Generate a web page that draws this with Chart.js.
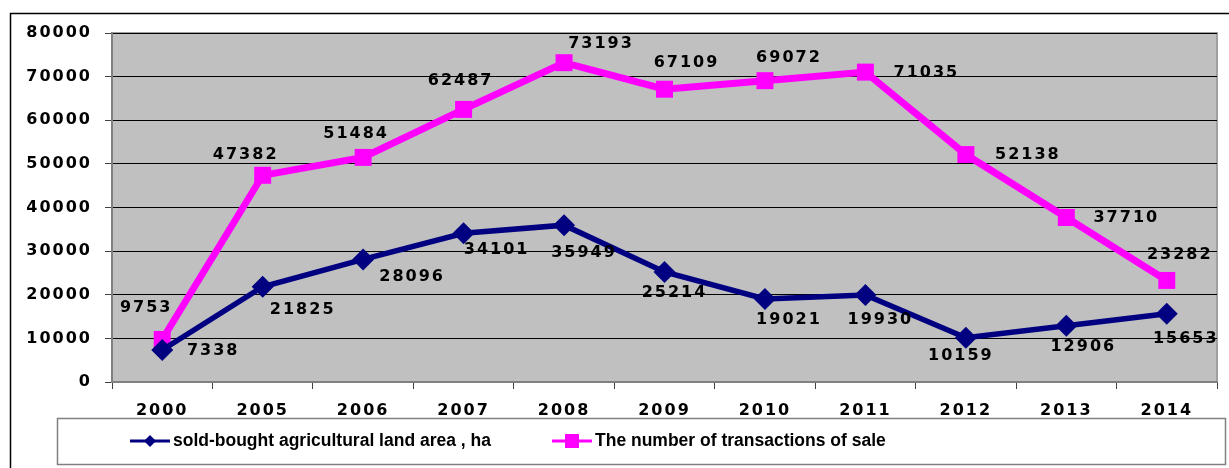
<!DOCTYPE html>
<html>
<head>
<meta charset="utf-8">
<title>Agricultural land sales</title>
<script src="https://cdn.jsdelivr.net/npm/chart.js@4.4.1/dist/chart.umd.min.js"></script>
<style>
    body { margin: 0; background: #fff; }
    #wrap { width: 1229px; height: 468px; }
</style>
</head>
<body>
<div id="wrap"><canvas id="land-chart" width="1229" height="468"></canvas></div>
<script>
    // Data
    var years = ["2000", "2005", "2006", "2007", "2008", "2009", "2010", "2011", "2012", "2013", "2014"];
    var landArea = [7338, 21825, 28096, 34101, 35949, 25214, 19021, 19930, 10159, 12906, 15653];
    var transactions = [9753, 47382, 51484, 62487, 73193, 67109, 69072, 71035, 52138, 37710, 23282];
    var yTicks = [0, 10000, 20000, 30000, 40000, 50000, 60000, 70000, 80000];
    var landLabel = "sold-bought agricultural land area , ha";
    var transLabel = "The number of transactions of sale";

    // label offsets (px) from each point
    var landOffsets = [[50, 1], [39, 23], [48, 17], [32, 17], [19, 28], [9, 21], [23, 21], [14, 25], [-6, 18], [16, 21], [18, 25]];
    var transOffsets = [[-17, -32], [-18, -20], [-8, -24], [-4, -29], [36, -19], [21, -26], [23, -23], [60, 1], [61, 0], [59, 0], [12, -26]];

    var NUM_FONT = "'DejaVu Sans', Verdana, sans-serif";
    var TXT_FONT = "'Liberation Sans', Arial, sans-serif";
    var SPACING = "2px";
    var NAVY = "#000080";
    var PINK = "#ff00ff";

    // Frame, plot background and legend box
    var framePlugin = {
        id: "frame",
        beforeDraw: function (chart) {
            var ctx = chart.ctx, a = chart.chartArea;
            ctx.save();
            ctx.fillStyle = "#c0c0c0";
            ctx.fillRect(a.left, a.top, a.right - a.left, a.bottom - a.top);
            ctx.strokeStyle = "#a0a0a0";
            ctx.lineWidth = 2;
            ctx.strokeRect(a.left, a.top, a.right - a.left, a.bottom - a.top);
            // outer border
            ctx.strokeStyle = "#000";
            ctx.lineWidth = 1.5;
            ctx.beginPath();
            ctx.moveTo(10.5, 468);
            ctx.lineTo(10.5, 13.5);
            ctx.lineTo(1229, 13.5);
            ctx.stroke();
            ctx.restore();
            // wide digits like the original
            ctx.letterSpacing = SPACING;
        },
        afterDraw: function (chart) {
            var ctx = chart.ctx;
            ctx.save();
            ctx.letterSpacing = "0px";
            ctx.strokeStyle = "#808080";
            ctx.lineWidth = 1.5;
            ctx.strokeRect(57.5, 418.5, 1168, 46);
            ctx.font = "bold 17.5px " + TXT_FONT;
            ctx.textBaseline = "middle";
            var y = 441;
            // series 1
            ctx.strokeStyle = NAVY;
            ctx.lineWidth = 3;
            ctx.beginPath(); ctx.moveTo(130, y); ctx.lineTo(170, y); ctx.stroke();
            ctx.fillStyle = NAVY;
            ctx.beginPath();
            ctx.moveTo(150, y - 6); ctx.lineTo(156, y); ctx.lineTo(150, y + 6); ctx.lineTo(144, y);
            ctx.closePath(); ctx.fill();
            ctx.fillStyle = "#000";
            ctx.fillText(landLabel, 173, y);
            // series 2
            ctx.strokeStyle = PINK;
            ctx.beginPath(); ctx.moveTo(552, y); ctx.lineTo(592, y); ctx.stroke();
            ctx.fillStyle = PINK;
            ctx.fillRect(565, y - 7, 14, 14);
            ctx.fillStyle = "#000";
            ctx.fillText(transLabel, 595, y);
            ctx.restore();
        }
    };

    // Data labels
    var labelPlugin = {
        id: "pointLabels",
        afterDatasetsDraw: function (chart) {
            var ctx = chart.ctx;
            var offsets = [landOffsets, transOffsets];
            ctx.save();
            ctx.letterSpacing = SPACING;
            ctx.font = "bold 16px " + NUM_FONT;
            ctx.fillStyle = "#000";
            ctx.textAlign = "center";
            ctx.textBaseline = "middle";
            chart.data.datasets.forEach(function (ds, i) {
                var meta = chart.getDatasetMeta(i);
                meta.data.forEach(function (pt, j) {
                    var off = offsets[i][j];
                    ctx.fillText(String(ds.data[j]), pt.x + off[0] + 1, pt.y + off[1]);
                });
            });
            ctx.restore();
        }
    };

    var ctx1 = document.getElementById("land-chart").getContext("2d");
    var myChart1 = new Chart(ctx1, {
        type: "line",
        data: {
            labels: years,
            datasets: [{
                    label: landLabel,
                    data: landArea,
                    borderColor: NAVY,
                    backgroundColor: NAVY,
                    borderWidth: 5.5,
                    pointStyle: "rectRot",
                    pointRadius: 11,
                    pointBorderWidth: 0,
                    tension: 0
                },
                {
                    label: transLabel,
                    data: transactions,
                    borderColor: PINK,
                    backgroundColor: PINK,
                    borderWidth: 7,
                    pointStyle: "rect",
                    pointRadius: 12,
                    pointBorderWidth: 0,
                    tension: 0
                }
            ]
        },
        options: {
            responsive: false,
            animation: false,
            layout: { padding: { left: 0, top: 33, right: 9, bottom: 0 } },
            plugins: {
                legend: { display: false },
                tooltip: { enabled: false }
            },
            scales: {
                x: {
                    offset: true,
                    afterFit: function (scale) { scale.height = 86; },
                    grid: {
                        offset: true,
                        drawOnChartArea: false,
                        drawTicks: true,
                        tickLength: 7,
                        color: "#404040"
                    },
                    border: { color: "#808080", width: 2 },
                    ticks: {
                        color: "#000",
                        padding: 12,
                        font: { family: NUM_FONT, size: 16, weight: "bold" }
                    }
                },
                y: {
                    min: 0,
                    max: 80000,
                    afterFit: function (scale) { scale.width = 112; },
                    afterBuildTicks: function (scale) {
                        scale.ticks = yTicks.map(function (v) { return { value: v }; });
                    },
                    grid: {
                        color: "#000",
                        lineWidth: 1,
                        tickLength: 7,
                        tickColor: "#404040"
                    },
                    border: { color: "#808080", width: 2 },
                    ticks: {
                        color: "#000",
                        padding: 13,
                        callback: function (v) { return String(v); },
                        font: { family: NUM_FONT, size: 16, weight: "bold" }
                    }
                }
            }
        },
        plugins: [framePlugin, labelPlugin]
    });
</script>
</body>
</html>
